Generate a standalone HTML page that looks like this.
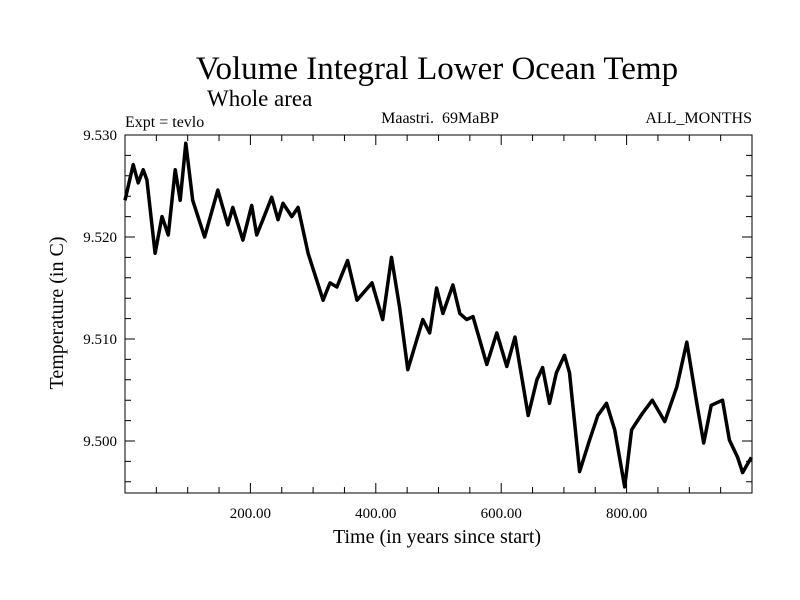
<!DOCTYPE html>
<html><head><meta charset="utf-8"><style>
body{margin:0;background:#fff}
svg{display:block;font-family:"Liberation Serif",serif}
</style></head><body>
<svg width="800" height="600">
<text x="437" y="79" text-anchor="middle" font-size="33">Volume Integral Lower Ocean Temp</text>
<text x="207" y="106" font-size="23">Whole area</text>
<text x="125" y="127" font-size="16">Expt = tevlo</text>
<text x="440" y="123" text-anchor="middle" font-size="16">Maastri.&#160; 69MaBP</text>
<text x="752" y="123" text-anchor="end" font-size="16">ALL_MONTHS</text>
<g id="axes"></g>
<path id="line" fill="none" stroke="#000" stroke-width="3.5" stroke-linejoin="round"/>
<text x="437" y="543" text-anchor="middle" font-size="20">Time (in years since start)</text>
<text transform="translate(63,313) rotate(-90)" text-anchor="middle" font-size="20">Temperature (in C)</text>
</svg>
<script>
const years=[0,13,21,29,35,48,59,69,80,88,97,108,127,148,164,172,188,202,210,220,234,244,252,266,276,292,316,327,338,355,370,394,411,425,438,451,475,486,497,507,523,534,545,555,577,593,609,622,643,657,666,677,688,701,709,725,741,754,768,781,797,808,825,841,861,880,896,912,923,935,953,964,977,985,999];
const temps=[9.5236,9.5271,9.5253,9.5266,9.5256,9.5184,9.5220,9.5202,9.5266,9.5236,9.5292,9.5236,9.5200,9.5246,9.5212,9.5229,9.5197,9.5231,9.5202,9.5217,9.5239,9.5217,9.5233,9.5220,9.5229,9.5184,9.5138,9.5155,9.5151,9.5177,9.5138,9.5155,9.5119,9.5180,9.5131,9.5070,9.5119,9.5106,9.5150,9.5125,9.5153,9.5125,9.5119,9.5122,9.5075,9.5106,9.5073,9.5102,9.5025,9.5060,9.5072,9.5037,9.5067,9.5084,9.5067,9.4970,9.5001,9.5025,9.5037,9.5011,9.4955,9.5011,9.5027,9.5040,9.5019,9.5053,9.5097,9.5037,9.4998,9.5035,9.5040,9.5001,9.4984,9.4969,9.4984];
const xTicks=[200,400,600,800];
const xTickLabels=["200.00","400.00","600.00","800.00"];
const yTicks=[9.500,9.510,9.520,9.530];
const yTickLabels=["9.500","9.510","9.520","9.530"];
const L=125,R=752,T=135,B=493,X0=0,X1=1000,Y1=9.530,Y0=9.530-(B-T)/10200;
const sx=v=>L+(v-X0)/(X1-X0)*(R-L);
const sy=v=>T+(Y1-v)/(Y1-Y0)*(B-T);
const NS="http://www.w3.org/2000/svg";
const g=document.getElementById('axes');
function mk(t,a){const e=document.createElementNS(NS,t);for(const k in a)e.setAttribute(k,a[k]);g.appendChild(e);return e;}
let f=mk('rect',{x:L,y:T,width:R-L,height:B-T,fill:'none',stroke:'#000','stroke-width':1});


let d='';
for(let v=50;v<X1;v+=50){const x=sx(v),len=(v%200===0)?10:6;d+=`M${x},${B}v${-len}M${x},${T}v${len}`;}
for(let i=0;i<=17;i++){const v=Y1-i*0.002;if(v<Y0)break;const y=sy(v),len=(Math.round(v*1000)%10===0)?10:6;d+=`M${L},${y}h${len}M${R},${y}h${-len}`;}
let tk=mk('path',{d:d,stroke:'#000','stroke-width':1,fill:'none'});


xTicks.forEach((v,i)=>{const t=mk('text',{x:sx(v),y:B+25,'text-anchor':'middle','font-size':15});t.textContent=xTickLabels[i];

});
yTicks.forEach((v,i)=>{const t=mk('text',{x:L-8,y:sy(v)+5,'text-anchor':'end','font-size':15});t.textContent=yTickLabels[i];

});
document.getElementById('line').setAttribute('d',years.map((y,i)=>(i?'L':'M')+sx(y).toFixed(1)+','+sy(temps[i]).toFixed(1)).join(''));
</script>
</body></html>
